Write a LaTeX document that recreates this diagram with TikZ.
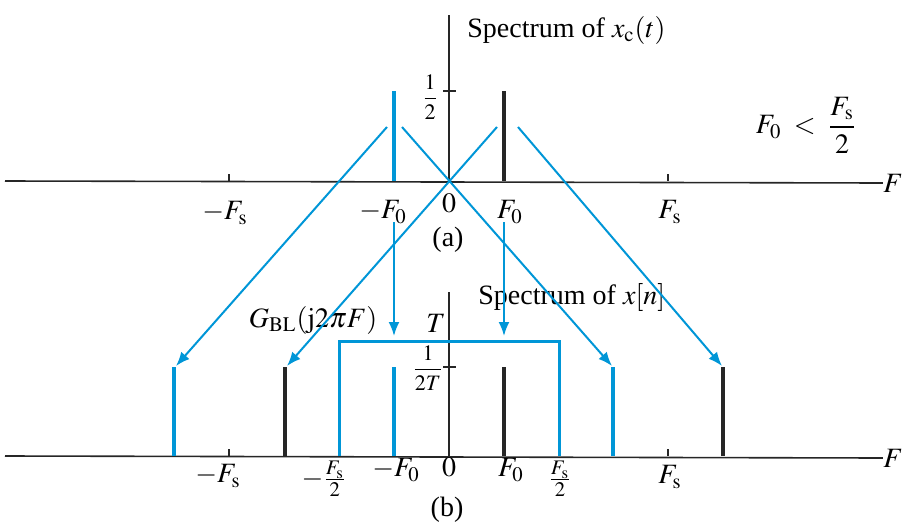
\documentclass[tikz,border=0pt]{standalone}
\usepackage{mathptmx}
\usepackage{fontspec}
\setmainfont{Liberation Serif}
\usetikzlibrary{arrows.meta}
\definecolor{sblue}{RGB}{0,150,215}
\begin{document}
\begin{tikzpicture}[x=0.5pt,y=-0.5pt,
  every node/.style={font=\fontsize{14}{17}\selectfont, inner sep=0pt},
  smallfrac/.style={font=\fontsize{11}{13}\selectfont},
  axisline/.style={line width=0.8pt, black!85},
  tickline/.style={line width=0.7pt, black!85},
  bluespec/.style={line width=2pt, sblue},
  blackspec/.style={line width=1.8pt, black!85},
  maparrow/.style={line width=1pt, sblue, -{Latex[length=7pt,width=5.5pt]}},
  boxline/.style={line width=1.5pt, sblue}]
\useasboundingbox (0,0) rectangle (906,525);

% ---------- (a) ----------
\coordinate (aL) at (5,181);
\node (aF) at (893,183) {$F$};
\draw[axisline] (aL) -- (aF.west);
\coordinate (aO) at (449,181);
\coordinate (aTop) at (449,15);
\draw[axisline] (aO) -- (aTop);
\coordinate (aHalfL) at (443,91); \coordinate (aHalfR) at (456,91);
\draw[tickline] (aHalfL) -- (aHalfR);
\foreach \x/\n in {229/amFs,668/aFs}{
  \coordinate (\n b) at (\x,181); \coordinate (\n t) at (\x,174);
  \draw[tickline] (\n b) -- (\n t);}
\coordinate (amF0b) at (394,181); \coordinate (amF0t) at (394,91);
\coordinate (aF0b) at (504,181); \coordinate (aF0t) at (504,91);
\draw[bluespec] (amF0b) -- (amF0t);
\draw[blackspec] (aF0b) -- (aF0t);

\node[anchor=west] (aTitle) at (467,30) {Spectrum of $x_{\mathrm{c}}(t)$};
\node[smallfrac] (aHalf) at (430,97) {$\displaystyle\frac{1}{2}$};
\node (aCond) at (806,125) {$F_0 \;<\; \displaystyle\frac{F_{\mathrm{s}}}{2}$};
\node (lamFs) at (225,213) {$-F_{\mathrm{s}}$};
\node (lamF0) at (383,212) {$-F_0$};
\node (la0) at (449,203) {$0$};
\node (laF0) at (510,212) {$F_0$};
\node (laFs) at (670,212) {$F_{\mathrm{s}}$};
\node (la) at (448,240) {(a)};

% ---------- (b) ----------
\coordinate (bL) at (5,456);
\node (bF) at (893,458) {$F$};
\draw[axisline] (bL) -- (bF.west);
\coordinate (bO) at (449,456);
\coordinate (bTop) at (449,292);
\draw[axisline] (bO) -- (bTop);
\coordinate (bHalfL) at (443,367); \coordinate (bHalfR) at (456,367);
\draw[tickline] (bHalfL) -- (bHalfR);
\foreach \x/\n in {229/bmFs,668/bFs}{
  \coordinate (\n b) at (\x,456); \coordinate (\n t) at (\x,449);
  \draw[tickline] (\n b) -- (\n t);}

% lowpass box
\coordinate (r1) at (339,456); \coordinate (r2) at (339,341);
\coordinate (r3) at (559,341); \coordinate (r4) at (559,456);
\draw[boxline] (r1) -- (r2) -- (r3) -- (r4);

% spectral lines
\foreach \x/\n in {174/bb1,394/bb2,613/bb3}{
  \coordinate (\n b) at (\x,456); \coordinate (\n t) at (\x,367);
  \draw[bluespec] (\n b) -- (\n t);}
\foreach \x/\n in {285/bk1,504/bk2,723/bk3}{
  \coordinate (\n b) at (\x,456); \coordinate (\n t) at (\x,367);
  \draw[blackspec] (\n b) -- (\n t);}

\node[anchor=west] (bTitle) at (478,297) {Spectrum of $x[n]$};
\node (bG) at (313,320) {$G_{\mathrm{BL}}(\mathrm{j}2\pi F)$};
\node (bT) at (436,323) {$T$};
\node[smallfrac] (bHalf) at (428,368) {$\displaystyle\frac{1}{2T}$};
\node (lbmFs) at (218,476) {$-F_{\mathrm{s}}$};
\node (lbmFs2) at (324,479) {$-\frac{F_{\mathrm{s}}}{2}$};
\node (lbmF0) at (396,470) {$-F_0$};
\node (lb0) at (449,467) {$0$};
\node (lbF0) at (511,470) {$F_0$};
\node (lbFs2) at (560,479) {$\frac{F_{\mathrm{s}}}{2}$};
\node (lbFs) at (670,477) {$F_{\mathrm{s}}$};
\node (lb) at (447,510) {(b)};

% ---------- mapping arrows ----------
\coordinate (s1) at (387,127); \coordinate (e1) at (176,366);
\coordinate (s2) at (402,127); \coordinate (e2) at (612,366);
\coordinate (s3) at (497,127); \coordinate (e3) at (287,366);
\coordinate (s4) at (518,127); \coordinate (e4) at (722,366);
\draw[maparrow] (s1) -- (e1);
\draw[maparrow] (s2) -- (e2);
\draw[maparrow] (s3) -- (e3);
\draw[maparrow] (s4) -- (e4);
\coordinate (v1s) at (394,222); \coordinate (v1e) at (394,336);
\coordinate (v2s) at (504,222); \coordinate (v2e) at (504,336);
\draw[maparrow] (v1s) -- (v1e);
\draw[maparrow] (v2s) -- (v2e);
\end{tikzpicture}
\end{document}
